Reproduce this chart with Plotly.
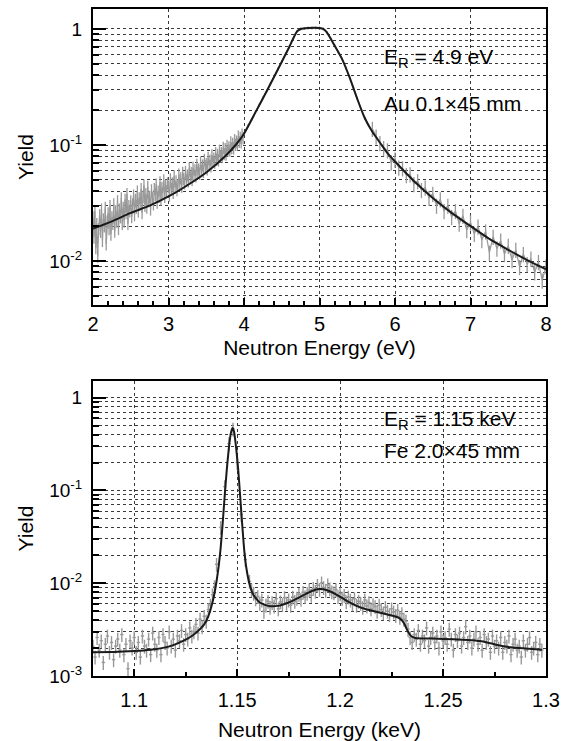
import plotly.graph_objects as go

# ================= Top panel: Au 0.1x45 mm, E_R = 4.9 eV =================
# dense low-energy side (bins of 0.0125 eV starting at 2.0 eV)
au_low_y = [
    0.024, 0.016, 0.027, 0.013, 0.021, 0.011, 0.019, 0.025,
    0.018, 0.028, 0.015, 0.023, 0.020, 0.029, 0.014, 0.022,
    0.026, 0.019, 0.030, 0.017, 0.024, 0.021, 0.031, 0.018,
    0.027, 0.022, 0.033, 0.019, 0.028, 0.024, 0.035, 0.021,
    0.029, 0.022, 0.034, 0.026, 0.038, 0.021, 0.030, 0.027,
    0.033, 0.024, 0.031, 0.037, 0.025, 0.034, 0.029, 0.040,
    0.027, 0.035, 0.031, 0.042, 0.026, 0.036, 0.045, 0.030,
    0.038, 0.029, 0.044, 0.033, 0.036, 0.028, 0.041, 0.035,
    0.031, 0.042, 0.037, 0.046, 0.032, 0.040, 0.036, 0.048,
    0.034, 0.043, 0.039, 0.050, 0.036, 0.045, 0.040, 0.047,
    0.044, 0.037, 0.051, 0.042, 0.047, 0.039, 0.054, 0.043,
    0.049, 0.041, 0.045, 0.056, 0.046, 0.052, 0.044, 0.058,
    0.051, 0.047, 0.059, 0.050, 0.055, 0.049, 0.063, 0.053,
    0.058, 0.050, 0.064, 0.055, 0.061, 0.054, 0.068, 0.058,
    0.062, 0.057, 0.071, 0.060, 0.067, 0.059, 0.075, 0.066,
    0.069, 0.062, 0.078, 0.067, 0.074, 0.066, 0.082, 0.072,
    0.077, 0.071, 0.086, 0.075, 0.083, 0.074, 0.090, 0.080,
    0.086, 0.079, 0.095, 0.084, 0.093, 0.083, 0.099, 0.090,
    0.096, 0.090, 0.106, 0.094, 0.103, 0.094, 0.111, 0.101,
    0.108, 0.102, 0.119, 0.107, 0.116, 0.106, 0.124, 0.115,
]
au_low_e = [round(2.0 + 0.0125 * i, 4) for i in range(len(au_low_y))]

# resonance region (bins of 0.05 eV starting at 4.0 eV)
au_peak_y = [
    0.126, 0.146, 0.166, 0.192, 0.221, 0.256, 0.292, 0.338, 0.392, 0.452,
    0.523, 0.610, 0.703, 0.820, 0.950, 1.000, 1.010, 1.020, 1.020, 1.020,
    1.020, 1.000, 0.930, 0.820, 0.720, 0.630, 0.548, 0.462, 0.382, 0.310,
    0.252, 0.203, 0.171, 0.149,
]
au_peak_e = [round(4.0 + 0.05 * i, 3) for i in range(len(au_peak_y))]

# high-energy side (bins of 0.05 eV starting at 5.7 eV)
au_high_y = [
    0.138, 0.118, 0.104, 0.094, 0.090, 0.071, 0.075, 0.064, 0.063, 0.055,
    0.056, 0.046, 0.049, 0.041, 0.043, 0.035, 0.038, 0.030, 0.034, 0.027,
    0.030, 0.024, 0.027, 0.021, 0.0245, 0.0185, 0.0215, 0.0172, 0.0198, 0.0152,
    0.0180, 0.0118, 0.0162, 0.0128, 0.0150, 0.0115, 0.0135, 0.0102, 0.0125, 0.0089,
    0.0115, 0.0094, 0.0105, 0.0080, 0.0098, 0.0068, 0.0090,
]
au_high_e = [round(5.7 + 0.05 * i, 3) for i in range(len(au_high_y))]

au_fit_e = [2.0, 2.25, 2.5, 2.75, 3.0, 3.25, 3.5, 3.75, 3.9, 4.0, 4.15, 4.3, 4.45,
            4.6, 4.7, 4.75, 4.85, 5.0, 5.05, 5.1, 5.2, 5.3, 5.4, 5.5, 5.6, 5.7,
            5.8, 5.9, 6.0, 6.25, 6.5, 6.75, 7.0, 7.25, 7.5, 7.75, 8.0]
au_fit_y = [0.0190, 0.0220, 0.0260, 0.0300, 0.0360, 0.0450, 0.0580, 0.0800, 0.1020,
            0.1250, 0.1900, 0.2900, 0.4500, 0.7000, 0.9500, 1.0000, 1.0200, 1.0200,
            1.0000, 0.9300, 0.7200, 0.5500, 0.3800, 0.2500, 0.1700, 0.1300, 0.1050,
            0.0850, 0.0720, 0.0490, 0.0350, 0.0260, 0.0200, 0.0155, 0.0125, 0.0102,
            0.0085]

# ================= Bottom panel: Fe 2.0x45 mm, E_R = 1.15 keV =================
# below the resonance (bins of 1 eV starting at 1.080 keV)
fe_low_y = [
    0.0021, 0.0016, 0.0026, 0.0019, 0.0024, 0.0014, 0.0022, 0.0027, 0.0018, 0.0023,
    0.0015, 0.0021, 0.0025, 0.0019, 0.0028, 0.0017, 0.0022, 0.0012, 0.0024, 0.0020,
    0.0026, 0.0018, 0.0023, 0.0016, 0.0027, 0.0021, 0.0019, 0.0025, 0.0017, 0.0029,
    0.0022, 0.0019, 0.0026, 0.0017, 0.0028, 0.0023, 0.0020, 0.0030, 0.0021, 0.0025,
    0.0019, 0.0027, 0.0024, 0.0031, 0.0022, 0.0028, 0.0025, 0.0033, 0.0027, 0.0030,
    0.0036, 0.0029, 0.0041, 0.0034, 0.0044, 0.0039, 0.0052, 0.0058, 0.0075, 0.0092,
]
fe_low_e = [round(1.080 + 0.001 * i, 4) for i in range(len(fe_low_y))]

# across the resonance peak (bins of 2 eV starting at 1.140 keV)
fe_peak_y = [0.016, 0.040, 0.110, 0.320, 0.460, 0.200, 0.055, 0.018, 0.0105]
fe_peak_e = [round(1.140 + 0.002 * i, 4) for i in range(len(fe_peak_y))]

# above the resonance (bins of 1 eV starting at 1.157 keV)
fe_high_y = [
    0.0085, 0.0078, 0.0068, 0.0072, 0.0061, 0.0066, 0.0050, 0.0058, 0.0064, 0.0055,
    0.0062, 0.0057, 0.0068, 0.0053, 0.0063, 0.0059, 0.0070, 0.0061, 0.0066, 0.0058,
    0.0071, 0.0064, 0.0069, 0.0076, 0.0067, 0.0080, 0.0072, 0.0078, 0.0085, 0.0074,
    0.0088, 0.0082, 0.0095, 0.0086, 0.0101, 0.0090, 0.0084, 0.0096, 0.0087, 0.0081,
    0.0079, 0.0085, 0.0072, 0.0077, 0.0069, 0.0074, 0.0063, 0.0071, 0.0066, 0.0060,
    0.0068, 0.0058, 0.0064, 0.0061, 0.0055, 0.0066, 0.0057, 0.0062, 0.0053, 0.0059,
    0.0056, 0.0050, 0.0058, 0.0052, 0.0048, 0.0055, 0.0050, 0.0046, 0.0053, 0.0049,
    0.0045, 0.0051, 0.0043, 0.0047, 0.0041, 0.0039, 0.0032, 0.0026, 0.0023, 0.0028,
    0.0025, 0.0031, 0.0022, 0.0027, 0.0024, 0.0033, 0.0021, 0.0026, 0.0029, 0.0023,
    0.0027, 0.0020, 0.0030, 0.0024, 0.0026, 0.0022, 0.0032, 0.0025, 0.0019, 0.0028,
    0.0024, 0.0029, 0.0021, 0.0026, 0.0034, 0.0023, 0.0027, 0.0020, 0.0025, 0.0030,
    0.0022, 0.0026, 0.0019, 0.0028, 0.0023, 0.0025, 0.0018, 0.0027, 0.0021, 0.0024,
    0.0020, 0.0026, 0.0018, 0.0023, 0.0021, 0.0027, 0.0017, 0.0022, 0.0025, 0.0019,
    0.0021, 0.0016, 0.0024, 0.0019, 0.0022, 0.0026, 0.0018, 0.0020, 0.0023, 0.0017,
    0.0022, 0.0019,
]
fe_high_e = [round(1.157 + 0.001 * i, 4) for i in range(len(fe_high_y))]

fe_fit_e = [1.080, 1.090, 1.100, 1.108, 1.114, 1.119, 1.124, 1.128, 1.131, 1.134,
            1.136, 1.1375, 1.139, 1.140, 1.141, 1.142, 1.143, 1.144, 1.145, 1.146,
            1.147, 1.1478, 1.1485, 1.1495, 1.1505, 1.1515, 1.1525, 1.1535, 1.1545,
            1.156, 1.158, 1.161, 1.165, 1.170, 1.175, 1.180, 1.185, 1.189, 1.192,
            1.195, 1.198, 1.2035, 1.208, 1.213, 1.218, 1.223, 1.228, 1.230, 1.2316,
            1.233, 1.2345, 1.2365, 1.245, 1.255, 1.262, 1.268, 1.273, 1.278, 1.283,
            1.290, 1.298]
fe_fit_y = [0.00180, 0.00182, 0.00186, 0.00192, 0.00201, 0.00215, 0.00240, 0.00270,
            0.00305, 0.00360, 0.00440, 0.00560, 0.0078, 0.0105, 0.0150, 0.0240,
            0.045, 0.090, 0.170, 0.290, 0.420, 0.470, 0.430, 0.290, 0.170, 0.085,
            0.042, 0.022, 0.0145, 0.0098, 0.0074, 0.0062, 0.0057, 0.0057, 0.0062,
            0.0070, 0.0080, 0.0086, 0.0086, 0.0082, 0.0076, 0.0064, 0.0057, 0.0052,
            0.0049, 0.0046, 0.0043, 0.0040, 0.0035, 0.0030, 0.00270, 0.00257,
            0.00253, 0.00249, 0.00245, 0.00238, 0.00225, 0.00212, 0.00204, 0.00198,
            0.00192]

# ================= tick labels =================
au_xticks = [2, 3, 4, 5, 6, 7, 8]
fe_xticks = [1.1, 1.15, 1.2, 1.25, 1.3]
fe_xtick_text = ["1.1", "1.15", "1.2", "1.25", "1.3"]
au_yticks = [0.01, 0.1, 1]
au_ytick_text = ["10<sup>-2</sup>", "10<sup>-1</sup>", "1"]
fe_yticks = [0.001, 0.01, 0.1, 1]
fe_ytick_text = ["10<sup>-3</sup>", "10<sup>-2</sup>", "10<sup>-1</sup>", "1"]
minor_log = [m * 10.0 ** d for d in (-4, -3, -2, -1, 0) for m in range(2, 10)]

GRAY = "#999999"
BLACK = "#1a1a1a"
FONT = "Liberation Sans, Arial, Helvetica, sans-serif"

fig = go.Figure()


def au_data(x, y, pct):
    fig.add_trace(go.Scatter(
        x=x, y=y, mode="lines", xaxis="x", yaxis="y",
        line=dict(color=GRAY, width=1.2),
        error_y=dict(type="percent", value=pct, color=GRAY, thickness=1.3, width=0),
        showlegend=False, hoverinfo="skip"))


au_data(au_low_e, au_low_y, 12)
au_data(au_peak_e, au_peak_y, 3)
au_data(au_high_e, au_high_y, 15)
fig.add_trace(go.Scatter(
    x=au_fit_e, y=au_fit_y, mode="lines", xaxis="x", yaxis="y",
    line=dict(color=BLACK, width=2, shape="spline", smoothing=0.6),
    showlegend=False, hoverinfo="skip"))


def fe_data(x, y, half_bin):
    fig.add_trace(go.Scatter(
        x=x, y=y, mode="markers", xaxis="x2", yaxis="y2",
        marker=dict(size=1, color=GRAY),
        error_y=dict(type="percent", value=17, color=GRAY, thickness=1.4, width=0),
        error_x=dict(type="constant", value=half_bin, color=GRAY, thickness=1.4, width=0),
        showlegend=False, hoverinfo="skip"))


fe_data(fe_low_e, fe_low_y, 0.0008)
fe_data(fe_peak_e, fe_peak_y, 0.0008)
fe_data(fe_high_e, fe_high_y, 0.0008)
fig.add_trace(go.Scatter(
    x=fe_fit_e, y=fe_fit_y, mode="lines", xaxis="x2", yaxis="y2",
    line=dict(color=BLACK, width=2, shape="spline", smoothing=0.5),
    showlegend=False, hoverinfo="skip"))

GRIDC = "#3a3a3a"
axis_common = dict(
    showline=True, linecolor="black", linewidth=2, mirror=True,
    ticks="inside", tickcolor="black", tickwidth=1.5, automargin=False,
    showgrid=True, gridcolor=GRIDC, griddash="dot", gridwidth=1,
    zeroline=False, tickfont=dict(family=FONT, size=20, color="black"),
)
YTICKFONT = dict(family=FONT, size=19, color="black")
ylog_minor = dict(tickmode="array", tickvals=minor_log, ticks="inside",
                  ticklen=6, tickwidth=1.5, tickcolor="black", showgrid=True,
                  gridcolor=GRIDC, griddash="dot", gridwidth=1)
TITLE_FONT = dict(family=FONT, size=21, color="black")
ANN_FONT = dict(family=FONT, size=21, color="black")

fig.update_layout(
    width=571, height=741,
    margin=dict(l=93, r=25, t=9, b=65),
    paper_bgcolor="white", plot_bgcolor="white",
    font=dict(family=FONT, color="black"),
    xaxis=dict(axis_common, domain=[0, 1], anchor="y", range=[2, 8],
               tickmode="array", tickvals=au_xticks, ticklen=7,
               minor=dict(dtick=0.2, tick0=2, ticks="inside", ticklen=4, tickwidth=1.5,
                          tickcolor="black", showgrid=False),
               title=dict(text="Neutron Energy (eV)", font=TITLE_FONT, standoff=6)),
    yaxis=dict(axis_common, domain=[0.5562, 1], anchor="x", type="log",
               range=[-2.379, 0.172], tickmode="array", tickvals=au_yticks,
               ticktext=au_ytick_text, ticklen=13, ticklabelstandoff=5,
               tickfont=YTICKFONT, minor=ylog_minor,
               title=dict(text="Yield", font=TITLE_FONT, standoff=10)),
    xaxis2=dict(axis_common, domain=[0, 1], anchor="y2", range=[1.08, 1.3],
                tickmode="array", tickvals=fe_xticks, ticktext=fe_xtick_text, ticklen=7,
                ticklabelstandoff=5,
                minor=dict(dtick=0.025, tick0=1.1, ticks="inside", ticklen=4, tickwidth=1.5,
                           tickcolor="black", showgrid=False),
                title=dict(text="Neutron Energy (keV)", font=TITLE_FONT, standoff=12)),
    yaxis2=dict(axis_common, domain=[0, 0.4423], anchor="x2", type="log",
                range=[-3, 0.18], tickmode="array", tickvals=fe_yticks,
                ticktext=fe_ytick_text, ticklen=13, ticklabelstandoff=5,
                tickfont=YTICKFONT, minor=ylog_minor,
                title=dict(text="Yield", font=TITLE_FONT, standoff=10)),
    annotations=[
        dict(text="E<sub>R</sub> = 4.9 eV", xref="x domain", yref="y domain",
             x=0.638, y=0.836, xanchor="left", yanchor="middle", showarrow=False,
             font=ANN_FONT),
        dict(text="Au 0.1×45 mm", xref="x domain", yref="y domain",
             x=0.638, y=0.682, xanchor="left", yanchor="middle", showarrow=False,
             font=ANN_FONT),
        dict(text="E<sub>R</sub> = 1.15 keV", xref="x2 domain", yref="y2 domain",
             x=0.638, y=0.868, xanchor="left", yanchor="middle", showarrow=False,
             font=ANN_FONT),
        dict(text="Fe 2.0×45 mm", xref="x2 domain", yref="y2 domain",
             x=0.638, y=0.766, xanchor="left", yanchor="middle", showarrow=False,
             font=ANN_FONT),
    ],
)

fig.write_html(
    "out.html",
    config={"displayModeBar": False},
    post_script="document.body.style.margin='0';document.body.style.padding='0';"
                "document.body.style.overflow='hidden';",
)
